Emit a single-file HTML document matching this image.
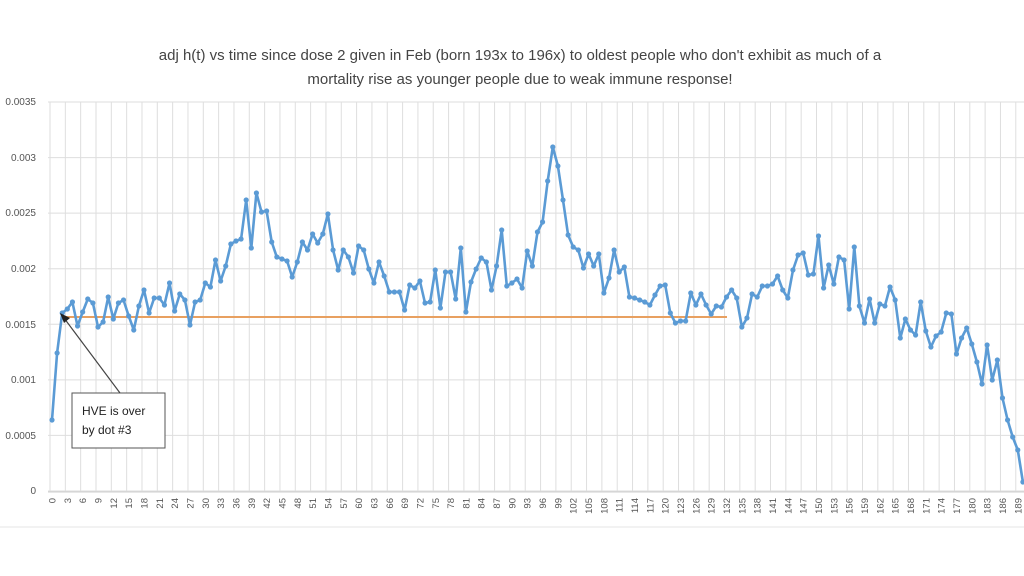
<!DOCTYPE html>
<html><head><meta charset="utf-8"><style>
html,body{margin:0;padding:0;background:#fff;}
svg{display:block;font-family:"Liberation Sans",sans-serif;}
</style></head><body>
<svg id="s" width="1024" height="576" viewBox="0 0 1024 576">
<text x="520" y="60" text-anchor="middle" font-size="15" fill="#444">adj h(t) vs time since dose 2 given in Feb (born 193x to 196x) to oldest people who don't exhibit as much of a</text>
<text x="520" y="84" text-anchor="middle" font-size="15" fill="#444">mortality rise as younger people due to weak immune response!</text>
<g id="grid" stroke="#dedede" stroke-width="1"></g>
<line x1="48" y1="492" x2="1024" y2="492" stroke="#cfcfcf"/>
<line x1="0" y1="527" x2="1024" y2="527" stroke="#e6e6e6"/>
<g font-size="10" fill="#555" text-anchor="end">
<text x="36" y="105">0.0035</text><text x="36" y="161">0.003</text><text x="36" y="216">0.0025</text><text x="36" y="272">0.002</text><text x="36" y="328">0.0015</text><text x="36" y="383">0.001</text><text x="36" y="439">0.0005</text><text x="36" y="494">0</text>
</g>
<g id="xl" font-size="9.5" fill="#555" text-anchor="end"></g>
<line x1="62" y1="317" x2="727" y2="317" stroke="#e8a060" stroke-width="2"/>
<polyline id="pl" fill="none" stroke="#5b9bd5" stroke-width="2.6" stroke-linejoin="round"/>
<g id="dots" fill="#5b9bd5"></g>
<rect x="72" y="393" width="93" height="55" fill="#fff" stroke="#555" stroke-width="1"/>
<text x="82" y="415" font-size="12" fill="#222">HVE is over</text>
<text x="82" y="434" font-size="12" fill="#222">by dot #3</text>
<line x1="120" y1="393" x2="64" y2="318" stroke="#444" stroke-width="1.2"/>
<polygon points="60,313 70,318 64,323" fill="#222"/>
</svg>
<script>
var Y=[420,353,313,309,302,326,312,299,303,327,322,297,319,303,300,316,330,306,290,313,298,298,305,283,311,294,300,325,302,300,283,287,260,281,266,244,241,239,200,248,193,212,211,242,257,259,261,277,262,242,250,234,243,234,214,250,270,250,257,273,246,250,269,283,262,276,292,292,292,310,285,288,281,303,302,270,308,272,272,299,248,312,282,269,258,262,290,266,230,286,283,279,288,251,266,232,222,181,147,166,200,235,247,250,268,254,266,254,293,278,250,272,267,297,298,300,302,305,295,286,285,313,323,321,321,293,305,294,305,314,306,307,297,290,298,327,318,294,297,286,286,284,276,290,298,270,255,253,275,274,236,288,265,284,257,260,309,247,306,323,299,323,304,306,287,300,338,319,330,335,302,331,347,336,332,313,314,354,338,328,344,362,384,345,380,360,398,420,437,450,482];
var ns="http://www.w3.org/2000/svg",pts=[],d=document.getElementById('dots');
for(var i=0;i<Y.length;i++){var x=52+5.11*i;pts.push(x.toFixed(1)+','+Y[i]);var c=document.createElementNS(ns,'circle');c.setAttribute('cx',x);c.setAttribute('cy',Y[i]);c.setAttribute('r',2.6);d.appendChild(c);}
document.getElementById('pl').setAttribute('points',pts.join(' '));
var g=document.getElementById('grid');
for(var k=0;k<8;k++){var l=document.createElementNS(ns,'line');var y=491-55.57*k;l.setAttribute('x1',48);l.setAttribute('x2',1024);l.setAttribute('y1',y);l.setAttribute('y2',y);g.appendChild(l);}
for(var k=0;k<=64;k++){var x=50+15.33*k;if(x>1024)break;var l=document.createElementNS(ns,'line');l.setAttribute('x1',x);l.setAttribute('x2',x);l.setAttribute('y1',102);l.setAttribute('y2',492);g.appendChild(l);}
var xl=document.getElementById('xl');
for(var k=0;k<=63;k++){var x=52+15.33*k;var t=document.createElementNS(ns,'text');t.setAttribute('transform','translate('+(x+3.5)+',498) rotate(-90)');t.textContent=String(k*3);xl.appendChild(t);}
</script>
</body></html>
